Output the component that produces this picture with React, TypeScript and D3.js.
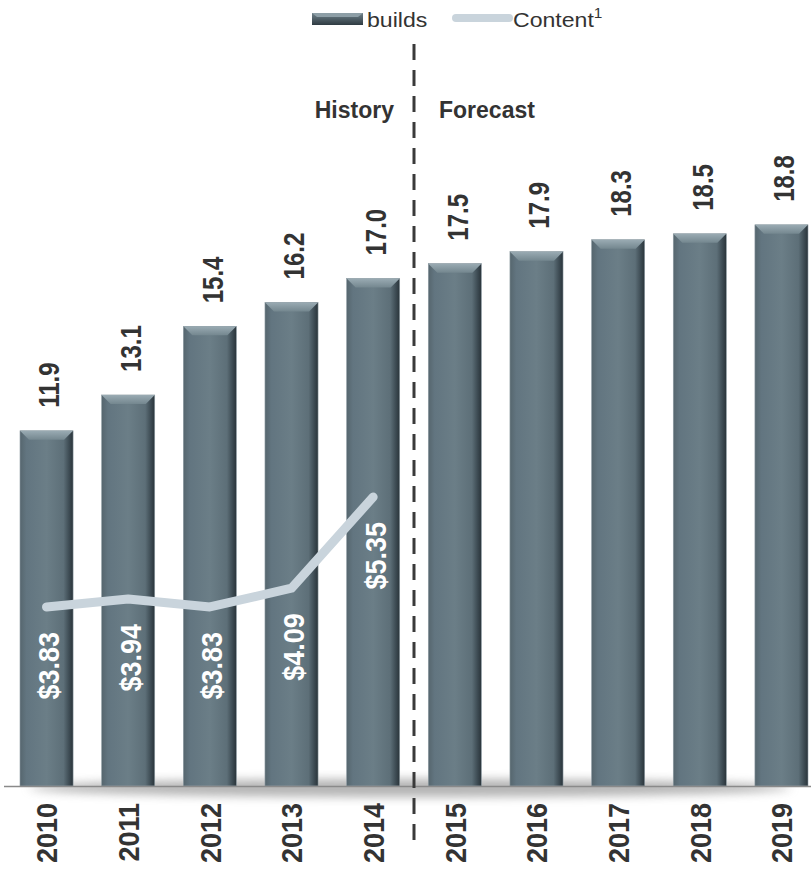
import React, { useEffect, useRef } from 'react';
import * as d3 from 'd3';

const years = ['2010', '2011', '2012', '2013', '2014', '2015', '2016', '2017', '2018', '2019'];
const builds = [11.9, 13.1, 15.4, 16.2, 17.0, 17.5, 17.9, 18.3, 18.5, 18.8];
const contentYears = ['2010', '2011', '2012', '2013', '2014'];
const content = [3.83, 3.94, 3.83, 4.09, 5.35];

const W = 811;
const H = 871;

const App: React.FC = () => {
  const svgRef = useRef<SVGSVGElement>(null);

  useEffect(() => {
    if (!svgRef.current) return;
    const svg = d3.select(svgRef.current);
    svg.selectAll('*').remove();

    const baseY = 786;
    const font = 'Arial, "Liberation Sans", sans-serif';

    const x = d3.scaleBand<string>().domain(years).range([20, 808]).paddingInner(0.35).paddingOuter(0);
    const y = d3.scaleLinear().domain([0, 20]).range([baseY, baseY - 597]);
    const y2 = d3.scaleLinear().domain([3, 6]).range([667, 450]);
    const bw = x.bandwidth();
    const cx = (d: string) => (x(d) as number) + bw / 2;

    // rotated text helper: size, horizontal stretch -> transform
    const rot = (px: number, py: number, size: number, sx: number) =>
      `translate(${px + (0.716 * size * sx) / 2},${py}) scale(${sx},1) rotate(-90)`;

    const defs = svg.append('defs');
    const body = defs.append('linearGradient').attr('id', 'barBody').attr('x1', '0').attr('x2', '1').attr('y1', '0').attr('y2', '0');
    body.append('stop').attr('offset', '0').attr('stop-color', '#56666e');
    body.append('stop').attr('offset', '0.12').attr('stop-color', '#627580');
    body.append('stop').attr('offset', '0.5').attr('stop-color', '#6b7e87');
    body.append('stop').attr('offset', '0.82').attr('stop-color', '#5d6f78');
    body.append('stop').attr('offset', '0.93').attr('stop-color', '#3c4a52');
    body.append('stop').attr('offset', '1').attr('stop-color', '#2a343a');

    const bevel = defs.append('linearGradient').attr('id', 'barBevel').attr('x1', '0').attr('x2', '0').attr('y1', '0').attr('y2', '1');
    bevel.append('stop').attr('offset', '0').attr('stop-color', '#9aabb3');
    bevel.append('stop').attr('offset', '1').attr('stop-color', '#74878f');

    const legendGrad = defs.append('linearGradient').attr('id', 'legBar').attr('x1', '0').attr('x2', '0').attr('y1', '0').attr('y2', '1');
    legendGrad.append('stop').attr('offset', '0').attr('stop-color', '#6f818a');
    legendGrad.append('stop').attr('offset', '1').attr('stop-color', '#2f3b42');

    const blur = defs.append('filter').attr('id', 'shadowBlur').attr('x', '-10%').attr('y', '-200%').attr('width', '120%').attr('height', '500%');
    blur.append('feGaussianBlur').attr('stdDeviation', '6 5');

    // shadow under the bars
    svg.append('ellipse')
      .attr('cx', 410).attr('cy', baseY + 2)
      .attr('rx', 380).attr('ry', 9)
      .attr('fill', '#777').attr('opacity', 0.55)
      .attr('filter', 'url(#shadowBlur)');

    // bars
    const bars = svg.append('g').selectAll('g').data(years).join('g')
      .attr('transform', d => `translate(${x(d)},0)`);

    bars.append('rect')
      .attr('x', 0).attr('width', bw)
      .attr('y', (d, i) => y(builds[i]))
      .attr('height', (d, i) => baseY - y(builds[i]))
      .attr('fill', 'url(#barBody)')
      .attr('stroke', '#8e9ca3').attr('stroke-width', 0.6);

    const bv = 9;
    bars.append('path')
      .attr('d', (d, i) => {
        const t = y(builds[i]);
        return `M0,${t}L${bw},${t}L${bw - bv},${t + bv}L${bv},${t + bv}Z`;
      })
      .attr('fill', 'url(#barBevel)');

    // baseline
    svg.append('line')
      .attr('x1', 4).attr('x2', W).attr('y1', baseY + 0.5).attr('y2', baseY + 0.5)
      .attr('stroke', '#8a8a8a').attr('stroke-width', 1.5);

    // bar value labels
    svg.append('g').selectAll('text').data(years).join('text')
      .attr('transform', (d, i) => rot(cx(d) + 2, y(builds[i]) - 23, 24, 1.25))
      .attr('font-family', font).attr('font-weight', 'bold').attr('font-size', 24)
      .attr('fill', '#333').attr('text-anchor', 'start')
      .text((d, i) => builds[i].toFixed(1));

    // year labels
    svg.append('g').selectAll('text').data(years).join('text')
      .attr('transform', d => rot(cx(d), 803, 27, 1.12))
      .attr('font-family', font).attr('font-weight', 'bold').attr('font-size', 27)
      .attr('fill', '#333').attr('text-anchor', 'end')
      .text(d => d);

    // content line
    const line = d3.line<number>()
      .x((d, i) => cx(contentYears[i]))
      .y(d => y2(d));
    svg.append('path')
      .attr('d', line(content))
      .attr('fill', 'none').attr('stroke', '#c9d4dc').attr('stroke-width', 9)
      .attr('stroke-linecap', 'round').attr('stroke-linejoin', 'round');

    // content labels
    svg.append('g').selectAll('text').data(content).join('text')
      .attr('transform', (d, i) => rot(cx(contentYears[i]) + 2, y2(d) + 25, 27, 1.1))
      .attr('font-family', font).attr('font-weight', 'bold').attr('font-size', 27)
      .attr('fill', '#fff').attr('text-anchor', 'end')
      .text(d => `$${d.toFixed(2)}`);

    // history/forecast divider
    const divX = ((x('2014') as number) + bw + (x('2015') as number)) / 2;
    svg.append('line')
      .attr('x1', divX).attr('x2', divX).attr('y1', 44).attr('y2', 840)
      .attr('stroke', '#3a3a3a').attr('stroke-width', 3)
      .attr('stroke-dasharray', '16,10');

    svg.append('text')
      .attr('x', divX - 20).attr('y', 118)
      .attr('font-family', font).attr('font-weight', 'bold').attr('font-size', 23)
      .attr('fill', '#333').attr('text-anchor', 'end')
      .text('History');
    svg.append('text')
      .attr('x', divX + 25).attr('y', 118)
      .attr('font-family', font).attr('font-weight', 'bold').attr('font-size', 23)
      .attr('fill', '#333')
      .text('Forecast');

    // legend
    const lg = svg.append('g');
    lg.append('rect').attr('x', 312).attr('y', 13).attr('width', 51).attr('height', 12)
      .attr('fill', 'url(#legBar)');
    lg.append('path').attr('d', 'M312,13L363,13L358,17L317,17Z').attr('fill', '#8d9ea6');
    lg.append('text').attr('x', 367).attr('y', 27)
      .attr('font-family', font).attr('font-size', 21).attr('fill', '#333')
      .attr('transform', 'translate(367,0) scale(1.1,1) translate(-367,0)')
      .text('builds');
    lg.append('line').attr('x1', 456).attr('x2', 509).attr('y1', 18).attr('y2', 18)
      .attr('stroke', '#c9d4dc').attr('stroke-width', 8).attr('stroke-linecap', 'round');
    const ct = lg.append('text').attr('x', 513).attr('y', 27)
      .attr('font-family', font).attr('font-size', 21).attr('fill', '#333')
      .attr('transform', 'translate(513,0) scale(1.1,1) translate(-513,0)');
    ct.append('tspan').text('Content');
    ct.append('tspan').attr('dy', -9).attr('font-size', 14).text('1');
  }, []);

  return (
    <div style={{ position: 'absolute', left: 0, top: 0 }}>
      <svg ref={svgRef} width={W} height={H} style={{ display: 'block', background: '#fff' }}></svg>
    </div>
  );
};

export default App;
